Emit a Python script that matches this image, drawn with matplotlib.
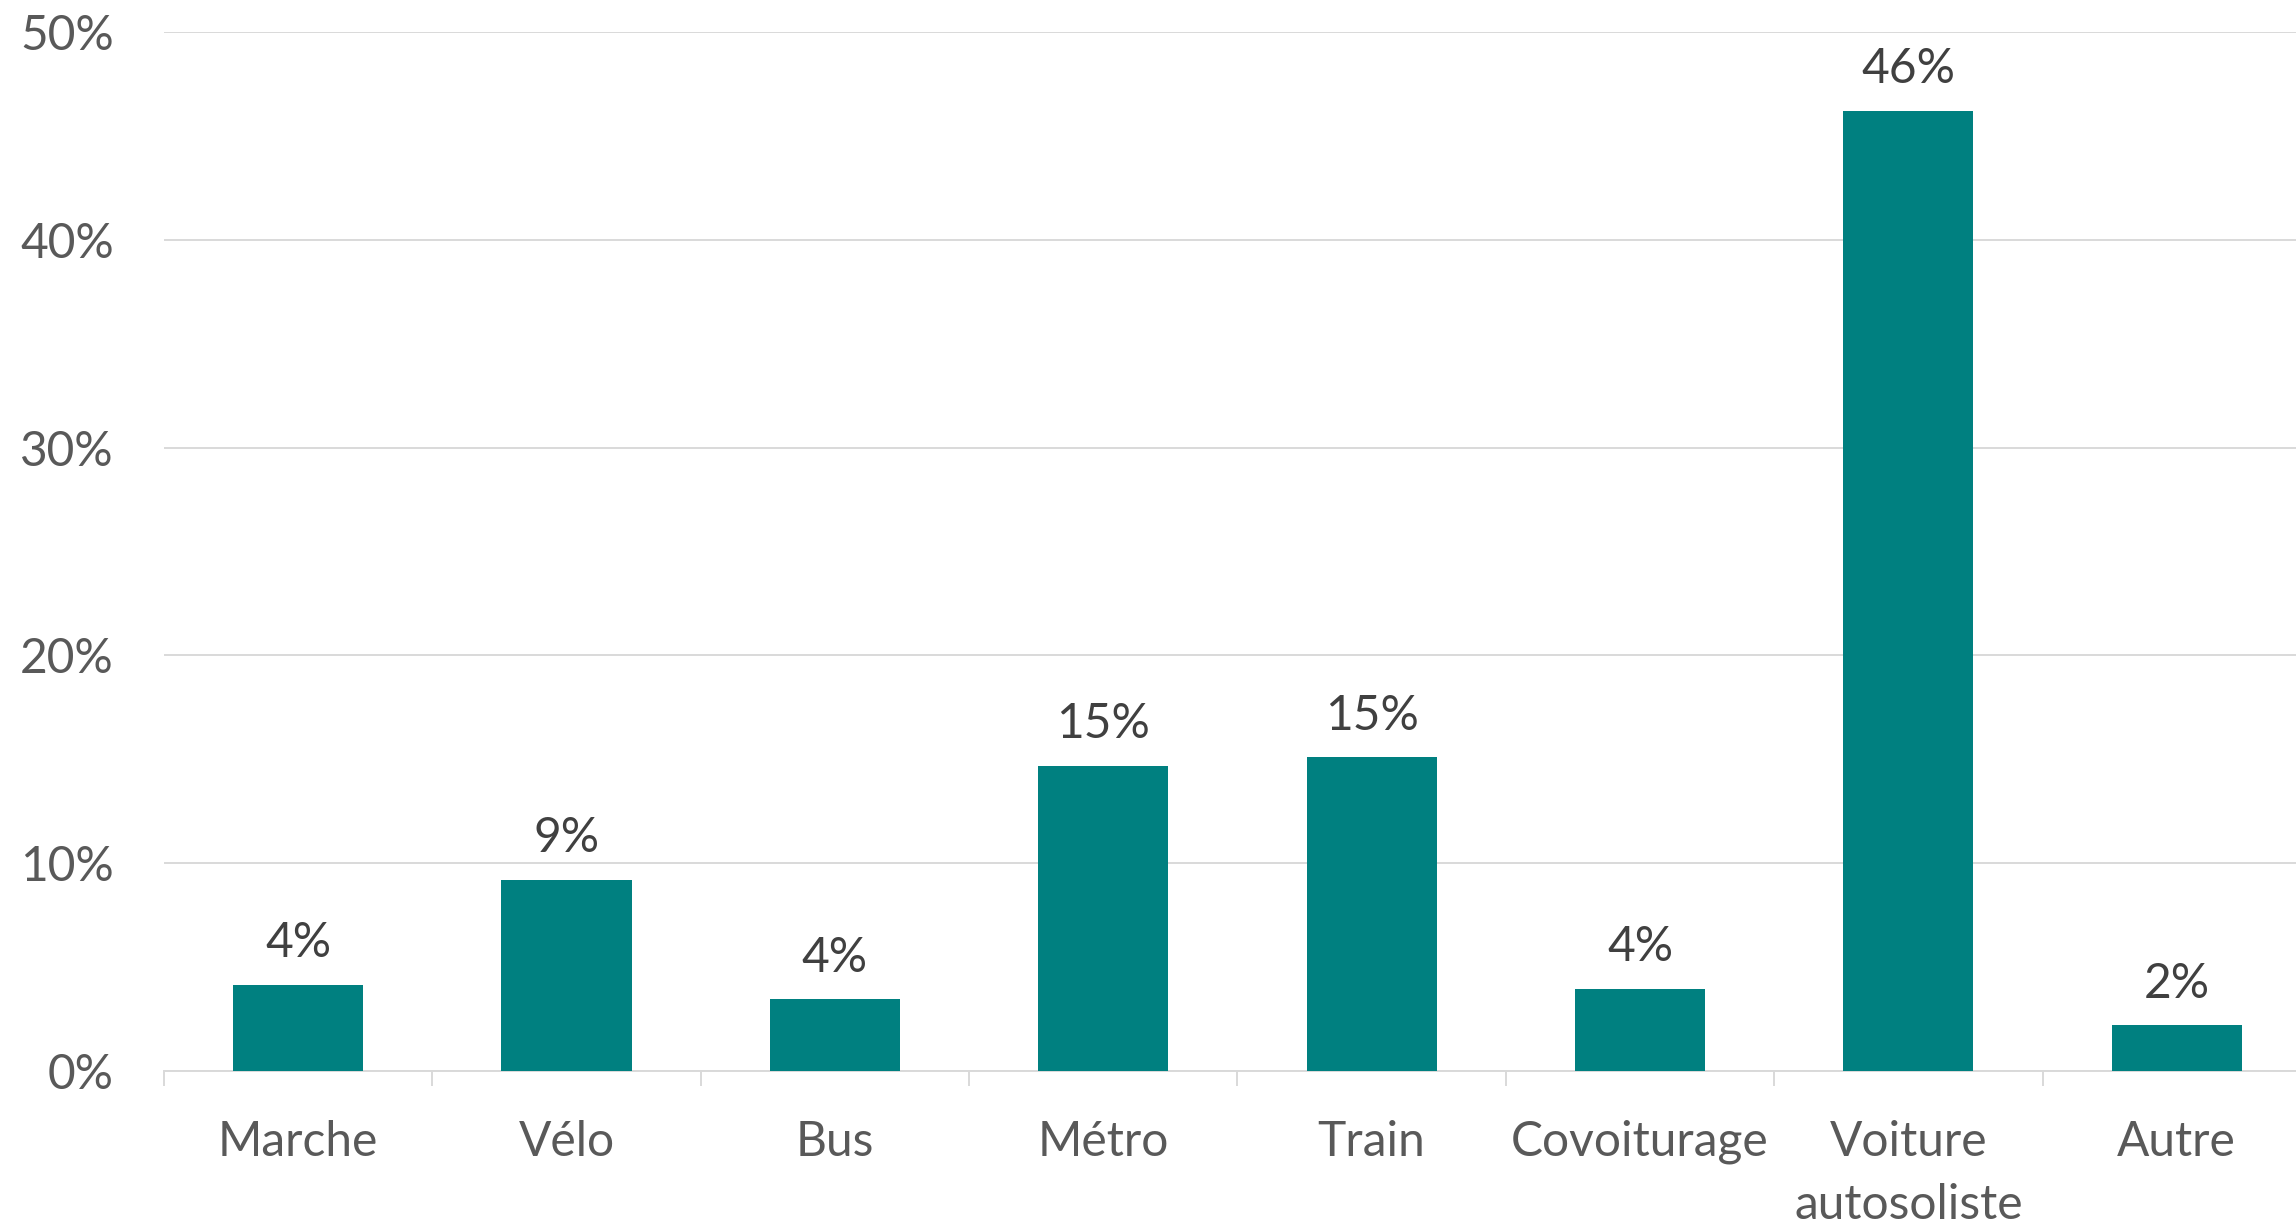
import numpy as np
import matplotlib.pyplot as plt

categories = ["Marche", "Vélo", "Bus", "Métro", "Train", "Covoiturage",
              "Voiture\nautosoliste", "Autre"]
values = [4.15, 9.2, 3.45, 14.7, 15.1, 3.95, 46.2, 2.2]
value_labels = ["4%", "9%", "4%", "15%", "15%", "4%", "46%", "2%"]
yticks = [0, 10, 20, 30, 40, 50]

plt.rcParams['font.family'] = ['Lato', 'DejaVu Sans']

fig = plt.figure(figsize=(22.96, 12.25), dpi=100)
ax = fig.add_axes([0.0714, 0.1257, 1.0065 - 0.0714, 0.9739 - 0.1257])

x = np.arange(len(categories))
bars = ax.bar(x, values, width=0.485, color="#008080", zorder=3)

for b, lab in zip(bars, value_labels):
    ax.annotate(lab, (b.get_x() + b.get_width() / 2, b.get_height()),
                xytext=(0, 14), textcoords="offset points",
                ha="center", va="bottom", fontsize=34.5, color="#404040")

ax.set_xlim(-0.5, len(categories) - 0.5)
ax.set_ylim(0, 50)
ax.set_yticks(yticks)
ax.set_yticklabels([f"{t}%" for t in yticks])
ax.set_xticks(x)
ax.set_xticklabels(categories, linespacing=1.55)
ax.set_xticks(np.arange(-0.5, len(categories), 1), minor=True)

ax.tick_params(axis="y", length=0, pad=36, labelsize=34.5, labelcolor="#595959")
ax.tick_params(axis="x", which="major", length=0, pad=35, labelsize=34.5,
               labelcolor="#595959")
ax.tick_params(axis="x", which="minor", length=11, width=1.4, color="#D9D9D9")

ax.grid(axis="y", color="#D9D9D9", linewidth=1.4, zorder=0)
for s in ["top", "right", "left"]:
    ax.spines[s].set_visible(False)
ax.spines["bottom"].set_color("#D9D9D9")
ax.spines["bottom"].set_linewidth(1.4)

fig.savefig("out.png", dpi=100)
